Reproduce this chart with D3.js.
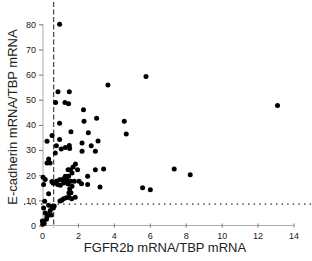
<!DOCTYPE html>
<html>
<head>
<meta charset="utf-8">
<script src="https://cdn.jsdelivr.net/npm/d3@7"></script>
<style>
  body { margin: 0; background: #fff; }
  text { font-family: "Liberation Sans", Arial, sans-serif; }
</style>
</head>
<body>
<script>
  // FGFR2b mRNA/TBP mRNA values
  const fgfr2b = [
    0.98, 3.67, 5.79, 13.11, 0.89, 1.52, 0.76, 1.28, 1.48, 2.31,
    2.34, 3.04, 4.58, 4.69, 0.98, 1.61, 2.58, 0.56, 0.28, 0.98,
    3.12, 0.80, 1.07, 1.30, 1.52, 1.54, 2.23, 2.74, 2.23, 2.97,
    0.74, 0.37, 0.28, 0.45, 3.43, 2.97, 7.36, 8.25, 2.54, 2.54,
    3.23, 5.60, 6.03, 2.06, 2.20, 1.86, 1.73, 1.58, 1.45, 1.98,
    1.67, 1.48, 1.30, 1.11, 0.98, 1.39, 1.61, 1.80, 0.80, 0.61,
    0.87, 1.21, 1.45, 1.67, 1.54, 1.61, 1.50, 1.35, 1.65, 1.10,
    1.20, 1.85, 1.00, 1.50, 0.06, 0.18, 0.09, 0.15, 0.37, 0.37,
    0.55, 0.63, 0.68, 0.09, 0.18, 0.28, 0.46, 0.50, 0.35, 0.09,
    0.04, 0.12, 0.02, 0.25, 0.68, 0.55, 1.02, 1.25
  ];

  // E-cadherin mRNA/TBP mRNA values
  const ecadherin = [
    80.0, 55.9, 59.2, 47.7, 53.2, 53.2, 48.9, 48.9, 48.4, 46.0,
    41.5, 42.6, 41.5, 36.4, 40.7, 37.3, 36.9, 35.8, 33.5, 34.2,
    33.6, 31.7, 30.4, 31.0, 31.8, 30.6, 32.8, 31.7, 29.5, 29.5,
    28.8, 26.4, 24.9, 24.9, 22.5, 22.2, 22.5, 20.2, 19.6, 16.3,
    15.3, 15.0, 14.2, 17.6, 16.6, 24.5, 23.3, 22.2, 22.2, 22.2,
    20.9, 19.6, 19.6, 18.2, 18.2, 18.2, 17.6, 17.6, 17.6, 16.9,
    16.3, 16.9, 16.5, 15.6, 14.5, 13.0, 12.9, 11.0, 10.6, 10.0,
    10.6, 11.2, 9.7, 11.2, 19.2, 18.3, 16.3, 9.6, 12.6, 8.1,
    7.6, 7.0, 7.8, 7.0, 5.0, 3.5, 6.0, 4.2, 4.6, 1.2,
    0.5, 0.8, 1.8, 2.5, 16.9, 17.5, 16.0, 18.8
  ];

  const xTicks = [0, 2, 4, 6, 8, 10, 12, 14];
  const yTicks = [0, 10, 20, 30, 40, 50, 60, 70, 80];
  const cutX = [0.65];   // vertical dashed cut-off
  const cutY = [8.5];    // horizontal dotted cut-off

  const points = fgfr2b.map((x, i) => ({ x: x, y: ecadherin[i] }));

  const W = 312, H = 261;
  const svg = d3.select('body').append('svg')
    .attr('width', W).attr('height', H);

  const x = d3.scaleLinear().domain([0, 14]).range([42, 293.5]);
  const y = d3.scaleLinear().domain([0, 80]).range([225.5, 24.3]);

  // y axis
  const yAxis = svg.append('g')
    .attr('transform', `translate(${x(0) + 1},0)`)
    .call(d3.axisLeft(y).tickValues(yTicks).tickSize(4).tickPadding(3));
  yAxis.select('.domain').attr('stroke', '#aaa').attr('d', `M0,${y(80)}V${y(0)}`);
  yAxis.selectAll('.tick line').attr('stroke', '#777');
  yAxis.selectAll('.tick text').attr('font-size', 9).attr('fill', '#222');

  // x axis
  const xAxis = svg.append('g')
    .attr('transform', `translate(0,${y(0)})`)
    .call(d3.axisBottom(x).tickValues(xTicks).tickSize(3).tickPadding(4));
  xAxis.select('.domain').attr('stroke', '#aaa').attr('d', `M${x(0)},0H${x(14)}`);
  xAxis.selectAll('.tick line').attr('stroke', '#777').attr('y1', -2).attr('y2', 2);
  xAxis.selectAll('.tick text').attr('font-size', 9).attr('fill', '#222');

  // cut-off lines
  svg.selectAll('.vcut').data(cutX).enter().append('line')
    .attr('x1', d => x(d)).attr('x2', d => x(d))
    .attr('y1', 2).attr('y2', y(0) + 2)
    .attr('stroke', '#333').attr('stroke-width', 1.1)
    .attr('stroke-dasharray', '5,2.5');

  svg.selectAll('.hcut').data(cutY).enter().append('line')
    .attr('x1', 24).attr('x2', 312)
    .attr('y1', d => y(d)).attr('y2', d => y(d))
    .attr('stroke', '#222').attr('stroke-width', 1.4)
    .attr('stroke-dasharray', '1.4,4.2');

  // points
  svg.append('g').selectAll('circle').data(points).enter().append('circle')
    .attr('cx', d => x(d.x))
    .attr('cy', d => y(d.y))
    .attr('r', 2.5)
    .attr('fill', '#000');

  // axis titles
  svg.append('text')
    .attr('x', 165).attr('y', 252)
    .attr('text-anchor', 'middle')
    .attr('font-size', 13).attr('fill', '#222')
    .text('FGFR2b mRNA/TBP mRNA');

  svg.append('text')
    .attr('transform', 'translate(16.5,117) rotate(-90)')
    .attr('text-anchor', 'middle')
    .attr('font-size', 13).attr('fill', '#222')
    .text('E-cadherin mRNA/TBP mRNA');
</script>
</body>
</html>
